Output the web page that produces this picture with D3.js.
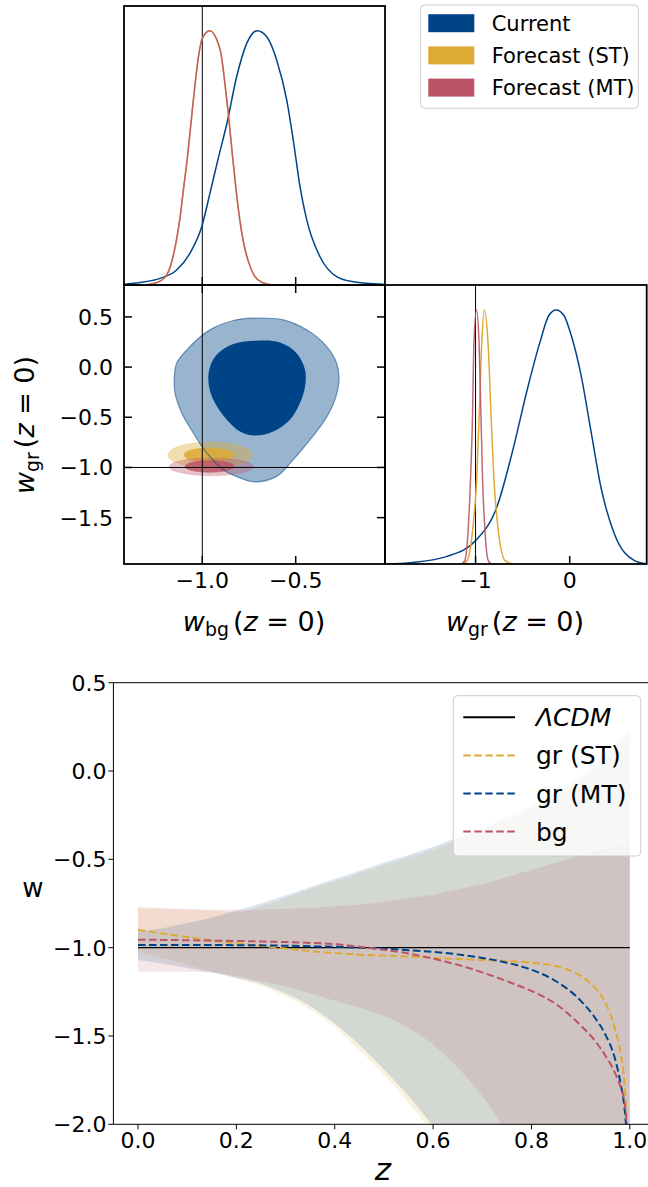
<!DOCTYPE html>
<html><head><meta charset="utf-8">
<script src="https://cdn.jsdelivr.net/npm/d3@7"></script>
<style>
body{margin:0;background:#fff}
svg{display:block}
text{font-family:"DejaVu Sans",sans-serif;fill:#000}
</style>
</head><body>
<svg id="c" width="648" height="1187"></svg>
<script>
// ---------------- DATA ----------------
const seriesNames = ["Current", "Forecast (ST)", "Forecast (MT)"];
const seriesColors = ["#004488", "#DDAA33", "#BB5566"];

const bgDomain = [-1.419, -0.022];
const grDomain = [-1.962, 0.818];
const bgTicks = [-1.0, -0.5];
const bgTickLabels = ["\u22121.0", "\u22120.5"];
const grTicks = [0.5, 0.0, -0.5, -1.0, -1.5];
const grTickLabels = ["0.5", "0.0", "\u22120.5", "\u22121.0", "\u22121.5"];
const grXTicks = [-1, 0];
const grXTickLabels = ["\u22121", "0"];

// 1D marginal of w_bg (normalised height)
const bgCurrentDensity = [
  [-1.419,0.003],[-1.333,0.01],[-1.226,0.026],[-1.137,0.059],[-1.066,0.125],[-1.003,0.229],
  [-0.959,0.36],[-0.914,0.5],[-0.869,0.633],[-0.816,0.819],[-0.762,0.95],[-0.706,1.0],
  [-0.655,0.976],[-0.602,0.885],[-0.548,0.727],[-0.513,0.57],[-0.477,0.387],[-0.441,0.256],
  [-0.37,0.111],[-0.281,0.033],[-0.192,0.013],[-0.03,0.003]
];
const bgForecastDensity = [
  [-1.32,0.0],[-1.25,0.008],[-1.20,0.03],[-1.17,0.075],[-1.14,0.17],[-1.12,0.26],[-1.10,0.38],
  [-1.08,0.50],[-1.06,0.64],[-1.04,0.78],[-1.02,0.90],[-1.00,0.97],[-0.96,1.0],[-0.92,0.96],
  [-0.90,0.91],[-0.88,0.80],[-0.86,0.67],[-0.84,0.52],[-0.82,0.38],[-0.80,0.26],[-0.78,0.17],
  [-0.75,0.085],[-0.72,0.035],[-0.68,0.01],[-0.62,0.0]
];
// 1D marginal of w_gr
const grCurrentDensity = [
  [-1.962,0.0],[-1.668,0.006],[-1.311,0.029],[-1.0,0.092],[-0.775,0.223],[-0.597,0.459],
  [-0.454,0.682],[-0.311,0.879],[-0.222,0.978],[-0.143,1.0],[-0.061,0.978],[0.011,0.906],
  [0.118,0.748],[0.225,0.525],[0.332,0.302],[0.475,0.118],[0.689,0.013],[0.818,0.0]
];
const grSTDensity = [
  [-1.14,0.0],[-1.09,0.013],[-1.032,0.131],[-0.989,0.328],[-0.961,0.59],[-0.936,0.853],
  [-0.908,1.0],[-0.865,0.853],[-0.836,0.59],[-0.804,0.328],[-0.758,0.131],[-0.686,0.013],[-0.6,0.0]
];
const grMTDensity = [
  [-1.15,0.0],[-1.115,0.013],[-1.079,0.131],[-1.054,0.328],[-1.032,0.59],[-1.019,0.853],
  [-0.99,1.0],[-0.961,0.853],[-0.943,0.59],[-0.925,0.328],[-0.9,0.131],[-0.865,0.013],[-0.83,0.0]
];

// 2D contours of Current (w_bg, w_gr)
const current95 = [
  [-0.727,0.488],[-0.566,0.471],[-0.441,0.371],[-0.334,0.205],[-0.281,0.040],[-0.268,-0.126],
  [-0.290,-0.325],[-0.343,-0.524],[-0.423,-0.723],[-0.513,-0.922],[-0.602,-1.089],[-0.718,-1.144],
  [-0.798,-1.104],[-0.888,-1.022],[-0.976,-0.856],[-1.048,-0.657],[-1.110,-0.458],[-1.146,-0.259],
  [-1.150,-0.126],[-1.137,0.040],[-1.066,0.205],[-0.959,0.371],[-0.834,0.464]
];
const current68 = [
  [-0.709,0.262],[-0.584,0.245],[-0.495,0.139],[-0.450,-0.027],[-0.450,-0.193],[-0.477,-0.358],
  [-0.531,-0.524],[-0.620,-0.641],[-0.718,-0.681],[-0.798,-0.641],[-0.869,-0.524],[-0.932,-0.358],
  [-0.964,-0.193],[-0.963,-0.027],[-0.923,0.122],[-0.834,0.229]
];
// forecast ellipses: [centre bg, centre gr, half-width bg, half-height gr]
const stEllipse95 = [-0.958, -0.876, 0.226, 0.13];
const stEllipse68 = [-0.964, -0.876, 0.134, 0.07];
const mtEllipse95 = [-0.952, -0.993, 0.225, 0.088];
const mtEllipse68 = [-0.961, -0.990, 0.131, 0.058];

// ---- lower panel: w(z) ----
const zDomain = [-0.05, 1.05];
const wDomain = [-2.0, 0.5];
const zTicks = [0, 0.2, 0.4, 0.6, 0.8, 1.0];
const zTickLabels = ["0.0","0.2","0.4","0.6","0.8","1.0"];
const wTicks = [0.5, 0.0, -0.5, -1.0, -1.5, -2.0];
const wTickLabels = ["0.5","0.0","\u22120.5","\u22121.0","\u22121.5","\u22122.0"];
const lineNames = ["\u039BCDM", "gr (ST)", "gr (MT)", "bg"];
const lineColors = ["#000000", "#DDAA33", "#004488", "#BB5566"];

const bandZ = [0,0.05,0.1,0.15,0.2,0.25,0.3,0.35,0.4,0.45,0.5,0.55,0.6,0.65,0.7,0.75,0.8,0.85,0.9,0.95,1.0];
const stHigh = [-0.78,-0.783,-0.787,-0.79,-0.80,-0.765,-0.72,-0.67,-0.625,-0.58,-0.535,-0.49,-0.445,-0.39,-0.335,-0.275,-0.215,-0.14,-0.05,0.06,0.20];
const stLow  = [-1.025,-1.06,-1.095,-1.135,-1.175,-1.215,-1.275,-1.35,-1.45,-1.58,-1.72,-1.88,-2.05,-2.25,-2.45,-2.65,-2.85,-3.05,-3.25,-3.45,-3.65];
const mtHigh = [-0.91,-0.89,-0.86,-0.83,-0.79,-0.75,-0.705,-0.658,-0.612,-0.566,-0.52,-0.475,-0.43,-0.375,-0.32,-0.26,-0.20,-0.12,-0.03,0.09,0.25];
const mtLow  = [-1.07,-1.09,-1.115,-1.14,-1.17,-1.205,-1.26,-1.33,-1.43,-1.55,-1.69,-1.84,-2.01,-2.2,-2.4,-2.6,-2.8,-3.0,-3.2,-3.4,-3.6];
const bgHigh = [-0.77,-0.775,-0.78,-0.785,-0.785,-0.785,-0.78,-0.775,-0.765,-0.755,-0.74,-0.72,-0.70,-0.67,-0.64,-0.60,-0.56,-0.52,-0.48,-0.44,-0.40];
const bgLow  = [-1.137,-1.137,-1.137,-1.14,-1.16,-1.19,-1.22,-1.26,-1.30,-1.34,-1.385,-1.455,-1.55,-1.68,-1.84,-2.04,-2.25,-2.45,-2.65,-2.85,-3.05];

const lineZ = [0,0.05,0.1,0.15,0.2,0.25,0.3,0.35,0.4,0.45,0.5,0.55,0.6,0.65,0.7,0.75,0.8,0.85,0.9,0.93,0.95,0.97,0.98,0.99,0.995];
const grSTMean = [-0.90,-0.92,-0.94,-0.96,-0.975,-0.99,-1.005,-1.02,-1.03,-1.04,-1.045,-1.05,-1.058,-1.064,-1.07,-1.076,-1.085,-1.105,-1.16,-1.23,-1.31,-1.46,-1.58,-1.80,-2.05];
const grMTMean = [-0.985,-0.985,-0.985,-0.985,-0.986,-0.987,-0.989,-0.992,-0.995,-1.0,-1.006,-1.014,-1.024,-1.038,-1.058,-1.085,-1.125,-1.19,-1.30,-1.40,-1.49,-1.63,-1.75,-1.93,-2.1];
const bgMean   = [-0.955,-0.956,-0.958,-0.96,-0.962,-0.965,-0.968,-0.973,-0.98,-0.995,-1.012,-1.033,-1.062,-1.097,-1.14,-1.19,-1.245,-1.32,-1.44,-1.53,-1.61,-1.71,-1.78,-1.89,-2.05];
const lcdmZ = [0, 1];
const lcdmW = [-1, -1];

// ---------------- DRAWING ----------------
const svg = d3.select("#c");
const defs = svg.append("defs");
function clip(id, x0, y0, x1, y1) {
  defs.append("clipPath").attr("id", id).append("rect")
    .attr("x", x0).attr("y", y0).attr("width", x1 - x0).attr("height", y1 - y0);
}
const FRAME = 1.8, TICK = 8;
const TL = 124, TR = 385, RR = 646.7, T0 = 6, T1 = 285, M1 = 564;

const xBg = d3.scaleLinear().domain(bgDomain).range([TL, TR]);
const yGr = d3.scaleLinear().domain(grDomain).range([M1, T1]);
const xGr = d3.scaleLinear().domain(grDomain).range([TR, RR]);
const hTop = d3.scaleLinear().domain([0, 1.097]).range([T1, T0]);
const hRight = d3.scaleLinear().domain([0, 1.098]).range([M1, T1]);

clip("cTop", TL, T0, TR, T1);
clip("cML", TL, T1, TR, M1);
clip("cMR", TR, T1, RR, M1);

// --- top panel: w_bg marginal
const gTop = svg.append("g").attr("clip-path", "url(#cTop)");
const lineTop = d3.line().x(d => xBg(d[0])).y(d => hTop(d[1])).curve(d3.curveMonotoneX);
gTop.append("line").attr("x1", xBg(-1)).attr("x2", xBg(-1)).attr("y1", T0).attr("y2", T1)
  .attr("stroke", "#000").attr("stroke-width", 1);
gTop.append("path").datum(bgCurrentDensity).attr("d", lineTop)
  .attr("fill", "none").attr("stroke", seriesColors[0]).attr("stroke-width", 1.5);
gTop.append("path").datum(bgForecastDensity).attr("d", lineTop)
  .attr("fill", "none").attr("stroke", seriesColors[1]).attr("stroke-width", 1.5);
gTop.append("path").datum(bgForecastDensity).attr("d", lineTop)
  .attr("fill", "none").attr("stroke", seriesColors[2]).attr("stroke-opacity", 0.85).attr("stroke-width", 1.5);

// --- middle-left: 2D contours
const gML = svg.append("g").attr("clip-path", "url(#cML)");
const contourLine = d3.line().x(d => xBg(d[0])).y(d => yGr(d[1])).curve(d3.curveCatmullRomClosed.alpha(0.5));
gML.append("path").datum(current95).attr("d", contourLine)
  .attr("fill", seriesColors[0]).attr("fill-opacity", 0.4);
gML.append("path").datum(current68).attr("d", contourLine)
  .attr("fill", seriesColors[0]).attr("fill-opacity", 1);
function ellipse(g, e, color, op) {
  g.append("ellipse")
    .attr("cx", xBg(e[0])).attr("cy", yGr(e[1]))
    .attr("rx", xBg(e[0] + e[2]) - xBg(e[0])).attr("ry", yGr(e[1]) - yGr(e[1] + e[3]))
    .attr("fill", color).attr("fill-opacity", op)
    .attr("stroke", color).attr("stroke-opacity", op * 0.6).attr("stroke-width", 1);
}
ellipse(gML, stEllipse95, seriesColors[1], 0.4);
ellipse(gML, stEllipse68, seriesColors[1], 0.85);
ellipse(gML, mtEllipse95, seriesColors[2], 0.35);
ellipse(gML, mtEllipse68, seriesColors[2], 0.85);
gML.append("path").datum(current95).attr("d", contourLine)
  .attr("fill", "none").attr("stroke", seriesColors[0]).attr("stroke-opacity", 0.5).attr("stroke-width", 1.2);
gML.append("line").attr("x1", xBg(-1)).attr("x2", xBg(-1)).attr("y1", T1).attr("y2", M1)
  .attr("stroke", "#000").attr("stroke-width", 1);
gML.append("line").attr("x1", TL).attr("x2", TR).attr("y1", yGr(-1)).attr("y2", yGr(-1))
  .attr("stroke", "#000").attr("stroke-width", 1);

// --- middle-right: w_gr marginal
const gMR = svg.append("g").attr("clip-path", "url(#cMR)");
const lineRight = d3.line().x(d => xGr(d[0])).y(d => hRight(d[1])).curve(d3.curveMonotoneX);
gMR.append("line").attr("x1", xGr(-1)).attr("x2", xGr(-1)).attr("y1", T1).attr("y2", M1)
  .attr("stroke", "#000").attr("stroke-width", 1);
gMR.append("path").datum(grCurrentDensity).attr("d", lineRight)
  .attr("fill", "none").attr("stroke", seriesColors[0]).attr("stroke-width", 1.5);
gMR.append("path").datum(grSTDensity).attr("d", lineRight)
  .attr("fill", "none").attr("stroke", seriesColors[1]).attr("stroke-width", 1.5);
gMR.append("path").datum(grMTDensity).attr("d", lineRight)
  .attr("fill", "none").attr("stroke", seriesColors[2]).attr("stroke-opacity", 0.9).attr("stroke-width", 1.5);

// frames
[[TL, T0, TR, T1], [TL, T1, TR, M1], [TR, T1, RR, M1]].forEach(r => {
  svg.append("rect").attr("x", r[0]).attr("y", r[1]).attr("width", r[2] - r[0]).attr("height", r[3] - r[1])
    .attr("fill", "none").attr("stroke", "#000").attr("stroke-width", FRAME);
});

// ticks (inward)
const tk = svg.append("g").attr("stroke", "#000").attr("stroke-width", 1.5);
bgTicks.forEach(v => {
  const x = xBg(v);
  tk.append("line").attr("x1", x).attr("x2", x).attr("y1", T1).attr("y2", T1 - TICK); // top panel bottom
  tk.append("line").attr("x1", x).attr("x2", x).attr("y1", T1).attr("y2", T1 + TICK); // mid-left top
  tk.append("line").attr("x1", x).attr("x2", x).attr("y1", M1).attr("y2", M1 - TICK); // mid-left bottom
});
grTicks.forEach(v => {
  const y = yGr(v);
  tk.append("line").attr("x1", TL).attr("x2", TL + TICK).attr("y1", y).attr("y2", y);
  tk.append("line").attr("x1", TR).attr("x2", TR - TICK).attr("y1", y).attr("y2", y);
});
grXTicks.forEach(v => {
  const x = xGr(v);
  tk.append("line").attr("x1", x).attr("x2", x).attr("y1", M1).attr("y2", M1 - TICK);
});

// tick labels
const TF = 22;
grTicks.forEach((v, i) => {
  svg.append("text").attr("x", 113).attr("y", yGr(v) + 8).attr("text-anchor", "end")
    .attr("font-size", TF).text(grTickLabels[i]);
});
bgTicks.forEach((v, i) => {
  svg.append("text").attr("x", xBg(v)).attr("y", 588).attr("text-anchor", "middle")
    .attr("font-size", TF).text(bgTickLabels[i]);
});
grXTicks.forEach((v, i) => {
  svg.append("text").attr("x", xGr(v)).attr("y", 588).attr("text-anchor", "middle")
    .attr("font-size", TF).text(grXTickLabels[i]);
});

// math labels
function mathLabel(t, sub, size) {
  t.attr("font-size", size);
  t.append("tspan").attr("font-style", "italic").text("w");
  t.append("tspan").attr("font-size", size * 0.7).attr("dy", size * 0.2).text(sub);
  t.append("tspan").attr("dy", -size * 0.2).attr("dx", size * 0.15).text("(");
  t.append("tspan").attr("font-style", "italic").text("z");
  t.append("tspan").text(" = 0)");
}
mathLabel(svg.append("text").attr("x", 254).attr("y", 631).attr("text-anchor", "middle"), "bg", 27);
mathLabel(svg.append("text").attr("x", 515).attr("y", 631).attr("text-anchor", "middle"), "gr", 27);
mathLabel(svg.append("text").attr("transform", "translate(33.5,425) rotate(-90)").attr("text-anchor", "middle"), "gr", 27);

// top legend
const lg = svg.append("g");
lg.append("rect").attr("x", 420.7).attr("y", 5).attr("width", 217.6).attr("height", 103.3).attr("rx", 4)
  .attr("fill", "#fff").attr("fill-opacity", 0.8).attr("stroke", "#cccccc").attr("stroke-width", 1);
seriesNames.forEach((n, i) => {
  const cy = 23.2 + i * 32.2;
  lg.append("rect").attr("x", 428.3).attr("y", cy - 9).attr("width", 46).attr("height", 18)
    .attr("fill", seriesColors[i]);
  lg.append("text").attr("x", 491.7).attr("y", cy + 7.5).attr("font-size", 21).text(n);
});

// ---------------- lower chart ----------------
const xZ = d3.scaleLinear().domain(zDomain).range([113.4, 654.4]);
const yW = d3.scaleLinear().domain(wDomain).range([1124.3, 682.7]);
clip("cB", 113.4, 682.7, 654.4, 1124.3);
const gB = svg.append("g").attr("clip-path", "url(#cB)");

const bands = [[stLow, stHigh, lineColors[1]], [mtLow, mtHigh, lineColors[2]], [bgLow, bgHigh, lineColors[3]]];
bands.forEach(b => {
  const area = d3.area().x((d, i) => xZ(bandZ[i])).y0((d, i) => yW(b[0][i])).y1((d, i) => yW(b[1][i]))
    .curve(d3.curveMonotoneX);
  gB.append("path").datum(bandZ).attr("d", area).attr("fill", b[2]).attr("fill-opacity", 0.15);
});

const lcdmLine = d3.line().x((d, i) => xZ(lcdmZ[i])).y(d => yW(d));
gB.append("path").datum(lcdmW).attr("d", lcdmLine).attr("fill", "none")
  .attr("stroke", lineColors[0]).attr("stroke-width", 1.3);
const meanLine = d3.line().x((d, i) => xZ(lineZ[i])).y(d => yW(d)).curve(d3.curveMonotoneX);
[[grSTMean, lineColors[1]], [grMTMean, lineColors[2]], [bgMean, lineColors[3]]].forEach(s => {
  gB.append("path").datum(s[0]).attr("d", meanLine).attr("fill", "none")
    .attr("stroke", s[1]).attr("stroke-width", 2).attr("stroke-dasharray", "7.5,3.5");
});

// spines
const sp = svg.append("g").attr("stroke", "#000").attr("stroke-width", 1);
sp.append("line").attr("x1", 113.4).attr("x2", 113.4).attr("y1", 682.7).attr("y2", 1124.3);
sp.append("line").attr("x1", 113.4).attr("x2", 648).attr("y1", 1124.3).attr("y2", 1124.3);
sp.append("line").attr("x1", 113.4).attr("x2", 648).attr("y1", 682.7).attr("y2", 682.7);
zTicks.forEach(v => sp.append("line").attr("x1", xZ(v)).attr("x2", xZ(v)).attr("y1", 1124.3).attr("y2", 1129.3));
wTicks.forEach(v => sp.append("line").attr("x1", 113.4).attr("x2", 108.4).attr("y1", yW(v)).attr("y2", yW(v)));

zTicks.forEach((v, i) => svg.append("text").attr("x", xZ(v)).attr("y", 1148).attr("text-anchor", "middle")
  .attr("font-size", 22).text(zTickLabels[i]));
wTicks.forEach((v, i) => svg.append("text").attr("x", 106.5).attr("y", yW(v) + 8).attr("text-anchor", "end")
  .attr("font-size", 22).text(wTickLabels[i]));

svg.append("text").attr("x", 383).attr("y", 1180).attr("text-anchor", "middle")
  .attr("font-size", 31).attr("font-style", "italic").text("z");
svg.append("text").attr("x", 33).attr("y", 897).attr("text-anchor", "middle")
  .attr("font-size", 26).text("w");

// lower legend
const lg2 = svg.append("g");
lg2.append("rect").attr("x", 453.3).attr("y", 695.7).attr("width", 187.4).attr("height", 160.3).attr("rx", 4)
  .attr("fill", "#fff").attr("fill-opacity", 0.8).attr("stroke", "#cccccc").attr("stroke-width", 1);
lineNames.forEach((n, i) => {
  const cy = 717.3 + i * 38.1;
  const l = lg2.append("line").attr("x1", 463.3).attr("x2", 515).attr("y1", cy).attr("y2", cy)
    .attr("stroke", lineColors[i]).attr("stroke-width", 2);
  if (i > 0) l.attr("stroke-dasharray", "7.5,3.5");
  const t = lg2.append("text").attr("x", 536).attr("y", cy + 9).attr("font-size", 25).text(n);
  if (i === 0) t.attr("font-style", "italic");
});
</script>
</body></html>
